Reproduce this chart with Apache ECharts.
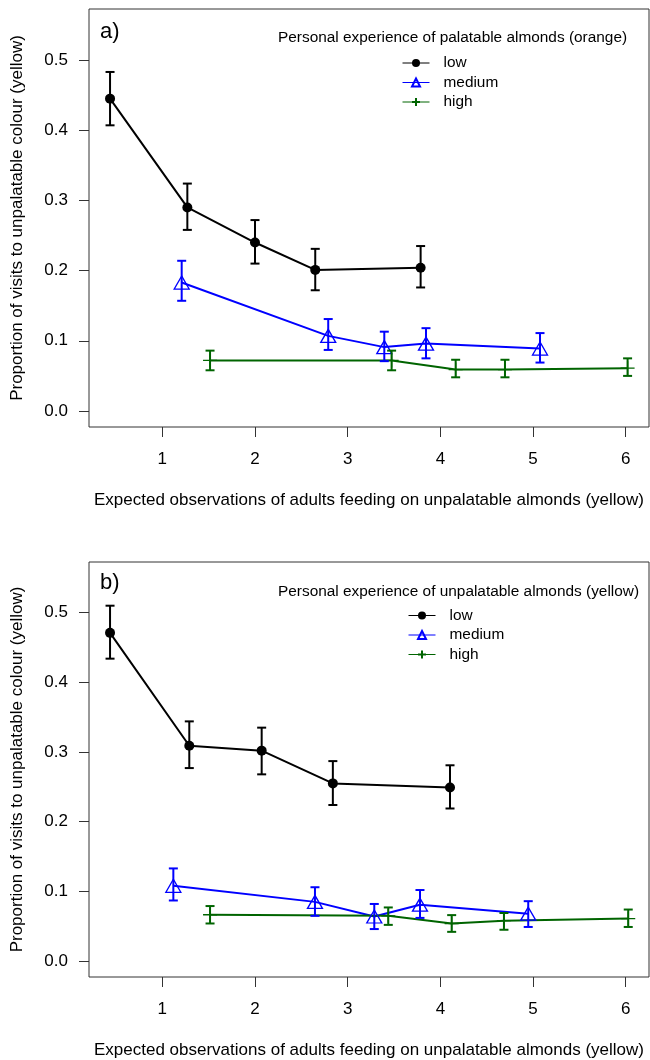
<!DOCTYPE html>
<html>
<head>
<meta charset="utf-8">
<script src="https://cdn.jsdelivr.net/npm/echarts@6/dist/echarts.min.js"></script>
<style>
html,body{margin:0;padding:0;background:#fff;}
#chart{width:650px;height:1060px;}
</style>
</head>
<body>
<div id="chart"></div>
<script>
// ---- data ----
var xTicks = [1, 2, 3, 4, 5, 6];
var yTicks = [0, 0.1, 0.2, 0.3, 0.4, 0.5];
var groupNames = ['low', 'medium', 'high'];

// panel a
var aLowX  = [0.436, 1.27, 2.0, 2.65, 3.787];
var aLowY  = [0.445, 0.290, 0.240, 0.201, 0.204];
var aLowLo = [0.407, 0.258, 0.210, 0.172, 0.176];
var aLowHi = [0.483, 0.324, 0.272, 0.231, 0.235];

var aMedX  = [1.209, 2.79, 3.395, 3.845, 5.075];
var aMedY  = [0.183, 0.107, 0.091, 0.096, 0.089];
var aMedLo = [0.157, 0.087, 0.071, 0.075, 0.069];
var aMedHi = [0.214, 0.131, 0.113, 0.118, 0.111];

var aHighX  = [1.515, 3.474, 4.165, 4.697, 6.02];
var aHighY  = [0.072, 0.072, 0.059, 0.059, 0.061];
var aHighLo = [0.058, 0.058, 0.048, 0.048, 0.050];
var aHighHi = [0.086, 0.086, 0.073, 0.073, 0.075];

// panel b
var bLowX  = [0.436, 1.291, 2.072, 2.84, 4.104];
var bLowY  = [0.471, 0.309, 0.302, 0.255, 0.249];
var bLowLo = [0.434, 0.277, 0.268, 0.224, 0.219];
var bLowHi = [0.510, 0.344, 0.335, 0.287, 0.281];

var bMedX  = [1.119, 2.647, 3.287, 3.78, 4.948];
var bMedY  = [0.108, 0.085, 0.064, 0.081, 0.068];
var bMedLo = [0.087, 0.065, 0.046, 0.062, 0.049];
var bMedHi = [0.133, 0.106, 0.082, 0.102, 0.086];

var bHighX  = [1.515, 3.438, 4.122, 4.686, 6.027];
var bHighY  = [0.0665, 0.065, 0.054, 0.058, 0.061];
var bHighLo = [0.054, 0.052, 0.042, 0.045, 0.049];
var bHighHi = [0.079, 0.077, 0.066, 0.069, 0.074];

var titleA = 'Personal experience of palatable almonds (orange)';
var titleB = 'Personal experience of unpalatable almonds (yellow)';
var xName = 'Expected observations of adults feeding on unpalatable almonds (yellow)';
var yName = 'Proportion of visits to unpalatable colour (yellow)';

// ---- styling ----
var FONT = 'Liberation Sans, Arial, sans-serif';
var COL = {low: '#000000', medium: '#0000ff', high: '#006400'};
var PLUS = 'path://M0,7L14,7M7,0L7,14';

function pts(xs, ys) { return xs.map(function (x, i) { return [x, ys[i]]; }); }
function errs(xs, lo, hi) { return xs.map(function (x, i) { return [x, lo[i], hi[i]]; }); }

function lineSeries(name, idx, xs, ys) {
  var s = {
    type: 'line', name: name, xAxisIndex: idx, yAxisIndex: idx,
    data: pts(xs, ys), z: 3, animation: false,
    lineStyle: {color: COL[name], width: 2},
    showSymbol: true
  };
  if (name === 'low') {
    s.symbol = 'circle'; s.symbolSize = 10;
    s.itemStyle = {color: COL.low, borderWidth: 0};
  } else if (name === 'medium') {
    s.symbol = 'triangle'; s.symbolSize = [15, 13];
    s.itemStyle = {color: 'rgba(255,255,255,0)', borderColor: COL.medium, borderWidth: 1.3};
  } else {
    s.symbol = PLUS; s.symbolSize = 14;
    s.itemStyle = {color: 'rgba(255,255,255,0)', borderColor: COL.high, borderWidth: 1.3};
  }
  return s;
}

function errSeries(name, idx, xs, lo, hi) {
  var c = COL[name];
  return {
    type: 'custom', name: name + '_err', xAxisIndex: idx, yAxisIndex: idx,
    data: errs(xs, lo, hi), z: 4, animation: false, silent: true,
    encode: {x: 0, y: [1, 2]},
    renderItem: function (params, api) {
      var x = api.value(0);
      var p1 = api.coord([x, api.value(1)]);
      var p2 = api.coord([x, api.value(2)]);
      var w = 4.5;
      var st = {stroke: c, lineWidth: 2};
      return {
        type: 'group',
        children: [
          {type: 'line', shape: {x1: p1[0], y1: p1[1], x2: p2[0], y2: p2[1]}, style: st},
          {type: 'line', shape: {x1: p1[0] - w, y1: p1[1], x2: p1[0] + w, y2: p1[1]}, style: st},
          {type: 'line', shape: {x1: p2[0] - w, y1: p2[1], x2: p2[0] + w, y2: p2[1]}, style: st}
        ]
      };
    }
  };
}

function xAxisCfg(idx) {
  return {
    type: 'value', gridIndex: idx, min: 0.209, max: 6.251,
    axisLine: {show: false, onZero: false},
    axisTick: {show: true, length: 10, customValues: xTicks, lineStyle: {color: '#333', width: 1}},
    axisLabel: {customValues: xTicks, fontSize: 17, fontFamily: FONT, color: '#000', margin: 24},
    splitLine: {show: false},
    name: xName, nameLocation: 'middle', nameGap: 65,
    nameTextStyle: {fontSize: 17, fontFamily: FONT, color: '#000'}
  };
}
function yAxisCfg(idx) {
  return {
    type: 'value', gridIndex: idx, min: -0.0228, max: 0.5727,
    axisLine: {show: false, onZero: false},
    axisTick: {show: true, length: 10, customValues: yTicks, lineStyle: {color: '#333', width: 1}},
    axisLabel: {customValues: yTicks, fontSize: 17, fontFamily: FONT, color: '#000', margin: 21,
      formatter: function (v) { return v.toFixed(1); }},
    splitLine: {show: false},
    name: yName, nameLocation: 'middle', nameGap: 63, nameRotate: 90,
    nameTextStyle: {fontSize: 17, fontFamily: FONT, color: '#000'}
  };
}
function legendCfg(left, top) {
  return {
    orient: 'vertical', left: left, top: top, data: groupNames,
    itemWidth: 27, itemHeight: 10, itemGap: 4.5, padding: 0,
    selectedMode: false,
    textStyle: {fontSize: 15.4, fontFamily: FONT, color: '#000', padding: [0, 0, 0, 9], lineHeight: 15},
    lineStyle: {width: 1}
  };
}

var option = {
  backgroundColor: '#ffffff',
  animation: false,
  grid: [
    {left: 89, top: 9, width: 560, height: 418, show: true, borderColor: '#333', borderWidth: 1, backgroundColor: 'transparent', containLabel: false},
    {left: 89, top: 562, width: 560, height: 417, show: true, borderColor: '#333', borderWidth: 1, backgroundColor: 'transparent', containLabel: false}
  ],
  xAxis: [xAxisCfg(0), xAxisCfg(1)],
  yAxis: [yAxisCfg(0), yAxisCfg(1)],
  legend: [legendCfg(402, 55.5), legendCfg(408, 608)],
  graphic: [
    {type: 'text', x: 100, y: 32, style: {text: 'a)', font: '22px ' + FONT, fill: '#000', verticalAlign: 'middle'}},
    {type: 'text', x: 278, y: 38, style: {text: titleA, font: '15.4px ' + FONT, fill: '#000', verticalAlign: 'middle'}},
    {type: 'text', x: 100, y: 583, style: {text: 'b)', font: '22px ' + FONT, fill: '#000', verticalAlign: 'middle'}},
    {type: 'text', x: 278, y: 592, style: {text: titleB, font: '15.4px ' + FONT, fill: '#000', verticalAlign: 'middle'}}
  ],
  series: [
    lineSeries('low', 0, aLowX, aLowY),
    lineSeries('medium', 0, aMedX, aMedY),
    lineSeries('high', 0, aHighX, aHighY),
    errSeries('low', 0, aLowX, aLowLo, aLowHi),
    errSeries('medium', 0, aMedX, aMedLo, aMedHi),
    errSeries('high', 0, aHighX, aHighLo, aHighHi),
    lineSeries('low', 1, bLowX, bLowY),
    lineSeries('medium', 1, bMedX, bMedY),
    lineSeries('high', 1, bHighX, bHighY),
    errSeries('low', 1, bLowX, bLowLo, bLowHi),
    errSeries('medium', 1, bMedX, bMedLo, bMedHi),
    errSeries('high', 1, bHighX, bHighLo, bHighHi)
  ]
};

var chart = echarts.init(document.getElementById('chart'), null, {renderer: 'canvas'});
chart.setOption(option);
</script>
</body>
</html>
